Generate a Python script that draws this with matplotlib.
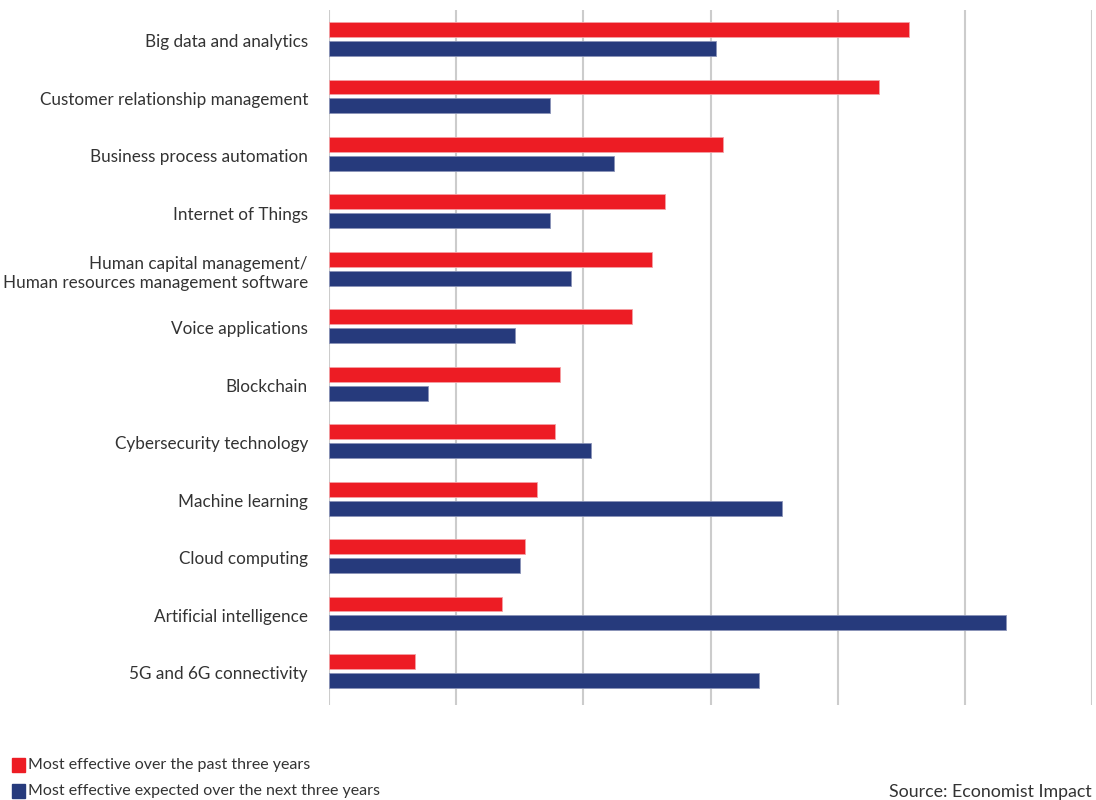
import matplotlib.pyplot as plt
from matplotlib.patches import Rectangle

plt.rcParams['font.family'] = ['Lato', 'DejaVu Sans']

categories = [
    "Big data and analytics",
    "Customer relationship management",
    "Business process automation",
    "Internet of Things",
    "Human capital management/\nHuman resources management software",
    "Voice applications",
    "Blockchain",
    "Cybersecurity technology",
    "Machine learning",
    "Cloud computing",
    "Artificial intelligence",
    "5G and 6G connectivity",
]
past_three_years = [22.8, 21.6, 15.5, 13.2, 12.7, 11.9, 9.1, 8.9, 8.2, 7.7, 6.8, 3.4]
next_three_years = [15.2, 8.7, 11.2, 8.7, 9.5, 7.3, 3.9, 10.3, 17.8, 7.5, 26.6, 16.9]
grid_ticks = [0, 5, 10, 15, 20, 25, 30]

RED = "#ed1c24"
BLUE = "#263a7c"

fig = plt.figure(figsize=(10.96, 8), dpi=100)
ax = fig.add_axes([0.300, 0.119, 0.6966, 0.8685])

pos = list(range(len(categories)))
off = 0.165
h = 0.26
ax.barh([p - off for p in pos], past_three_years, height=h, color=RED,
        edgecolor="#f4a0a4", linewidth=0.6, zorder=3)
ax.barh([p + off for p in pos], next_three_years, height=h, color=BLUE,
        edgecolor="#8a93b8", linewidth=0.6, zorder=3)

ax.set_xlim(0, 30)
ax.set_ylim(11.59, -0.505)
ax.set_xticks(grid_ticks)
ax.set_xticklabels([])
ax.tick_params(axis='x', length=0)
ax.set_yticks([p + 0.03 for p in pos])
ax.set_yticklabels(categories, fontsize=12.3, color="#333333", linespacing=1.2)
ax.tick_params(axis='y', length=0, pad=15)
for lbl in ax.get_yticklabels():
    lbl.set_horizontalalignment('right')
ax.grid(axis='x', color="#cccccc", linewidth=1.5, zorder=0)
for s in ax.spines.values():
    s.set_visible(False)

# legend drawn by hand at the bottom left
fig.patches.append(Rectangle((12 / 1096, 1 - 772 / 800), 13 / 1096, 14 / 800,
                             transform=fig.transFigure, color=RED))
fig.patches.append(Rectangle((12 / 1096, 1 - 798 / 800), 13 / 1096, 14 / 800,
                             transform=fig.transFigure, color=BLUE))
fig.text(28 / 1096, 1 - 765 / 800, "Most effective over the past three years",
         fontsize=11.5, color="#333333", va='center')
fig.text(28 / 1096, 1 - 791 / 800, "Most effective expected over the next three years",
         fontsize=11.5, color="#333333", va='center')
fig.text(1092 / 1096, 1 - 792 / 800, "Source: Economist Impact",
         fontsize=12.8, color="#333333", va='center', ha='right')

fig.savefig("out.png", dpi=100, facecolor="white")
